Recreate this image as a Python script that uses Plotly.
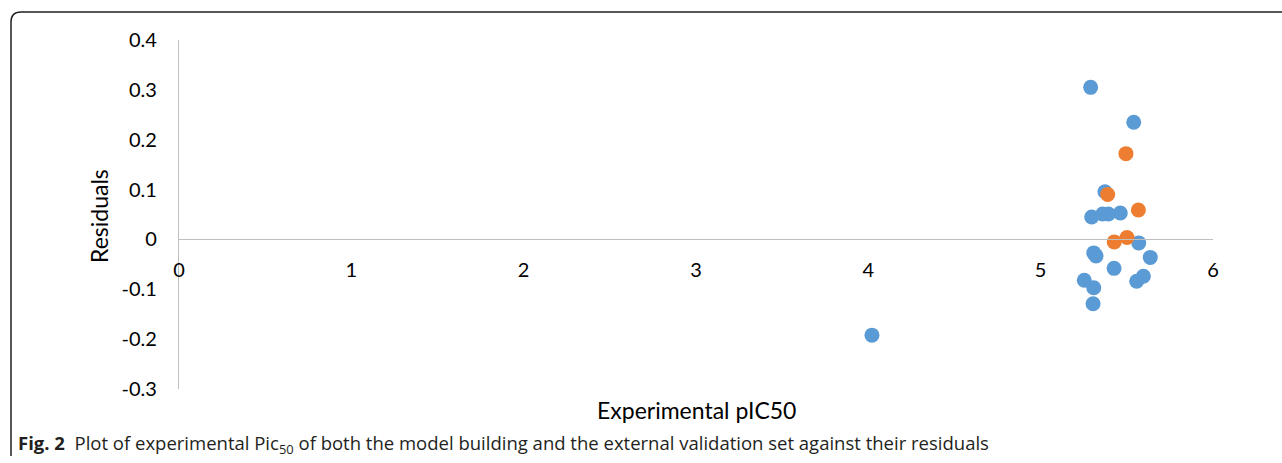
import plotly.graph_objects as go

# Model building set: experimental pIC50 vs. residuals
train_pic50 = [5.290, 5.540, 5.373, 5.296, 5.360, 5.393, 5.462, 5.569, 5.308,
               5.321, 5.636, 5.426, 5.253, 5.308, 5.557, 5.596, 5.304, 4.021]
train_resid = [0.305, 0.235, 0.0955, 0.045, 0.051, 0.051, 0.053, -0.007, -0.027,
               -0.033, -0.036, -0.058, -0.082, -0.097, -0.084, -0.074, -0.129, -0.192]

# External validation set
valid_pic50 = [5.495, 5.389, 5.567, 5.427, 5.501]
valid_resid = [0.172, 0.090, 0.059, -0.005, 0.004]

x_ticks = [0, 1, 2, 3, 4, 5, 6]
y_ticks = [-0.3, -0.2, -0.1, 0, 0.1, 0.2, 0.3, 0.4]
y_tick_text = ["-0.3", "-0.2", "-0.1", "0", "0.1", "0.2", "0.3", "0.4"]

W, H = 1282, 463
ML, MR, MT, MB = 179, 69, 40, 74
PW, PH = W - ML - MR, H - MT - MB


def px(x):
    return (x - ML) / PW


def py(y):
    return (H - MB - y) / PH


FONT = "Lato"
AX_GREY = "#BFBFBF"

fig = go.Figure()
fig.add_trace(go.Scatter(x=train_pic50, y=train_resid, mode="markers",
                         marker=dict(size=15, color="#5B9BD5"), showlegend=False))
fig.add_trace(go.Scatter(x=valid_pic50, y=valid_resid, mode="markers",
                         marker=dict(size=15, color="#ED7D31"), showlegend=False))

y_min, y_max = y_ticks[0], y_ticks[-1]
fig.update_layout(
    width=W, height=H,
    margin=dict(l=ML, r=MR, t=MT, b=MB, autoexpand=False),
    paper_bgcolor="white", plot_bgcolor="white",
    font=dict(family=FONT, color="black"),
    xaxis=dict(range=[0, 6], tickvals=x_ticks, showgrid=False, zeroline=False,
               showline=True, linecolor=AX_GREY, linewidth=1.3,
               anchor="free", position=(0 - y_min) / (y_max - y_min),
               ticks="", ticklabelstandoff=12,
               tickfont=dict(size=20, family=FONT, color="black")),
    yaxis=dict(range=[y_min, y_max], tickvals=y_ticks, ticktext=y_tick_text,
               showgrid=False, zeroline=False,
               showline=True, linecolor=AX_GREY, linewidth=1.3,
               ticks="", ticklabelstandoff=17,
               tickfont=dict(size=20, family=FONT, color="black")),
)

# Axis titles
fig.add_annotation(text="Experimental pIC50", xref="paper", yref="paper",
                   x=0.5, y=py(410), xanchor="center", yanchor="middle",
                   showarrow=False, font=dict(size=23, family=FONT, color="black"))
fig.add_annotation(text="Residuals", xref="paper", yref="paper",
                   x=px(99), y=py(216), xanchor="center", yanchor="middle",
                   textangle=-90, showarrow=False,
                   font=dict(size=23, family=FONT, color="black"))

# Figure caption
fig.add_annotation(
    text="<b>Fig. 2</b>  Plot of experimental Pic<sub>50</sub> of both the model building "
         "and the external validation set against their residuals",
    xref="paper", yref="paper", x=px(16), y=py(444),
    xanchor="left", yanchor="middle", showarrow=False,
    font=dict(size=18.5, family="Open Sans", color="#231F20"))

# Frame around the figure (top and left edges, rounded corner)
r = 10
path = (f"M {px(11)},{py(456)} L {px(11)},{py(12 + r)} "
        f"Q {px(11)},{py(12)} {px(11 + r)},{py(12)} L {px(1290)},{py(12)}")
fig.add_shape(type="path", path=path, xref="paper", yref="paper",
              line=dict(color="#231F20", width=1.5), layer="above")

fig.write_html("out.html")
